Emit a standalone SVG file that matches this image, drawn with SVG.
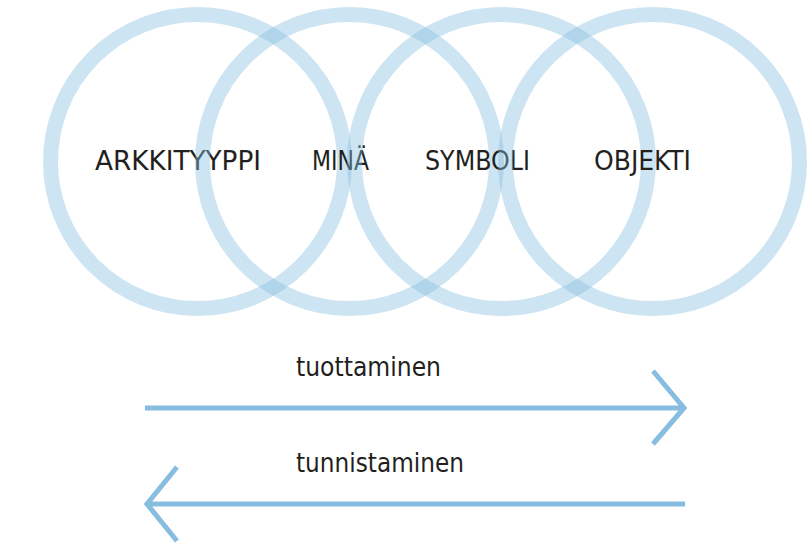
<svg xmlns="http://www.w3.org/2000/svg" width="810" height="547" viewBox="0 0 810 547">
<style>
.ring{fill:none;stroke:rgb(135,190,225);stroke-opacity:0.42;stroke-width:15}
.lbl{font-family:"DejaVu Sans Condensed","Liberation Sans",sans-serif;font-size:26px;fill:#231f20}
.arr{fill:none;stroke:#86bde0;stroke-width:5}
</style>
<rect width="810" height="547" fill="#fff"/>
<g id="arkkityyppi"><circle class="ring" cx="197.5" cy="161.5" r="147"/><text class="lbl" x="95" y="170" textLength="166" lengthAdjust="spacingAndGlyphs">ARKKITYYPPI</text></g>
<g id="mina"><circle class="ring" cx="349.5" cy="161.5" r="147"/><text class="lbl" x="312" y="170" textLength="57" lengthAdjust="spacingAndGlyphs">MINÄ</text></g>
<g id="symboli"><circle class="ring" cx="501.5" cy="161.5" r="147"/><text class="lbl" x="425" y="170" textLength="105" lengthAdjust="spacingAndGlyphs">SYMBOLI</text></g>
<g id="objekti"><circle class="ring" cx="652.5" cy="161.5" r="147"/><text class="lbl" x="594" y="170" textLength="97" lengthAdjust="spacingAndGlyphs">OBJEKTI</text></g>
<g id="connectors">
<g id="tuottaminen"><path class="arr" d="M145 408H684M653 371L684 408L653 444"/><text class="lbl" x="296" y="376" textLength="145" lengthAdjust="spacingAndGlyphs">tuottaminen</text></g>
<g id="tunnistaminen"><path class="arr" d="M685 504H147M177 467L147 504L177 541"/><text class="lbl" x="296" y="472" textLength="168" lengthAdjust="spacingAndGlyphs">tunnistaminen</text></g>
</g>
</svg>
